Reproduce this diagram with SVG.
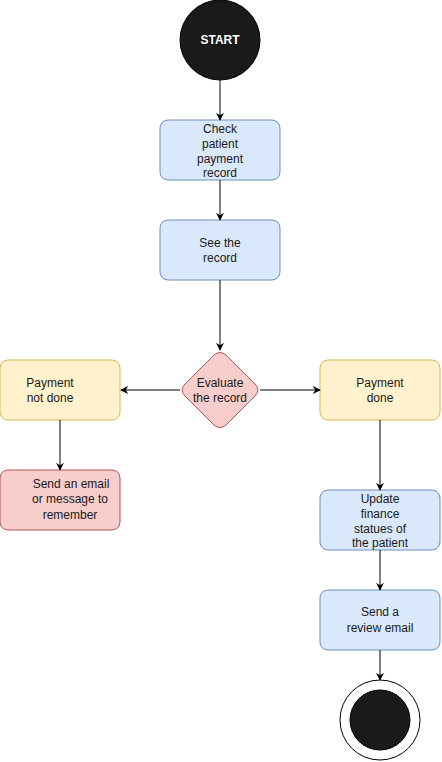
<svg xmlns="http://www.w3.org/2000/svg" width="442" height="762" viewBox="0 0 442 762">
<style>
text{font-family:"Liberation Sans",Arial,sans-serif;font-size:12px;fill:#1a1a1a;text-anchor:middle}
.blue{fill:#dae8fc;stroke:#6c8ebf;stroke-width:1}
.yellow{fill:#fff2cc;stroke:#d6b656;stroke-width:1}
.red{fill:#f8cecc;stroke:#b85450;stroke-width:1}
.edge{stroke:#000;stroke-width:1;fill:none;marker-end:url(#arr)}
</style>
<defs>
<marker id="arr" viewBox="0 0 10 10" refX="9" refY="5" markerWidth="8" markerHeight="8" markerUnits="userSpaceOnUse" orient="auto">
<path d="M0,0 L10,5 L0,10 L3,5 Z" fill="#000"/>
</marker>
</defs>
<g id="start">
<circle cx="220" cy="40" r="40" fill="#1a1a1a" stroke="#000"/>
<text x="220" y="44" style="fill:#fff;font-weight:bold">START</text>
</g>
<g id="check">
<rect x="160" y="120" width="120" height="60" rx="8" class="blue"/>
<text x="220" y="133">Check</text>
<text x="220" y="148">patient</text>
<text x="220" y="163">payment</text>
<text x="220" y="177">record</text>
</g>
<g id="see">
<rect x="160" y="220" width="120" height="60" rx="8" class="blue"/>
<text x="220" y="247">See the</text>
<text x="220" y="262">record</text>
</g>
<g id="evaluate">
<path d="M214,355 Q220,350 226,355 L255,384 Q261,390 255,396 L226,425 Q220,430 214,425 L185,396 Q179,390 185,384 Z" class="red"/>
<text x="220" y="387">Evaluate</text>
<text x="220" y="402">the record</text>
</g>
<g id="notdone">
<rect x="0" y="360" width="120" height="60" rx="8" class="yellow"/>
<text x="50" y="387">Payment</text>
<text x="50" y="402">not done</text>
</g>
<g id="done">
<rect x="320" y="360" width="120" height="60" rx="8" class="yellow"/>
<text x="380" y="387">Payment</text>
<text x="380" y="402">done</text>
</g>
<g id="sendemail">
<rect x="0" y="470" width="120" height="60" rx="8" class="red"/>
<text x="71" y="488">Send an email</text>
<text x="70" y="503">or message to</text>
<text x="70" y="519">remember</text>
</g>
<g id="update">
<rect x="320" y="490" width="120" height="60" rx="8" class="blue"/>
<text x="380" y="503">Update</text>
<text x="380" y="518">finance</text>
<text x="380" y="533">statues of</text>
<text x="380" y="547">the patient</text>
</g>
<g id="review">
<rect x="320" y="590" width="120" height="60" rx="8" class="blue"/>
<text x="380" y="616">Send a</text>
<text x="380" y="632">review email</text>
</g>
<g id="end">
<circle cx="380" cy="720" r="40" fill="#fff" stroke="#000"/>
<circle cx="380" cy="720" r="30" fill="#1a1a1a" stroke="#000"/>
</g>
<g id="connectors">
<line x1="220" y1="80" x2="220" y2="120" class="edge"/>
<line x1="220" y1="180" x2="220" y2="220" class="edge"/>
<line x1="220" y1="280" x2="220" y2="350" class="edge"/>
<line x1="180" y1="390" x2="121" y2="390" class="edge"/>
<line x1="260" y1="390" x2="320" y2="390" class="edge"/>
<line x1="60" y1="420" x2="60" y2="470" class="edge"/>
<line x1="380" y1="420" x2="380" y2="490" class="edge"/>
<line x1="380" y1="550" x2="380" y2="590" class="edge"/>
<line x1="380" y1="650" x2="380" y2="680" class="edge"/>
</g>
</svg>
